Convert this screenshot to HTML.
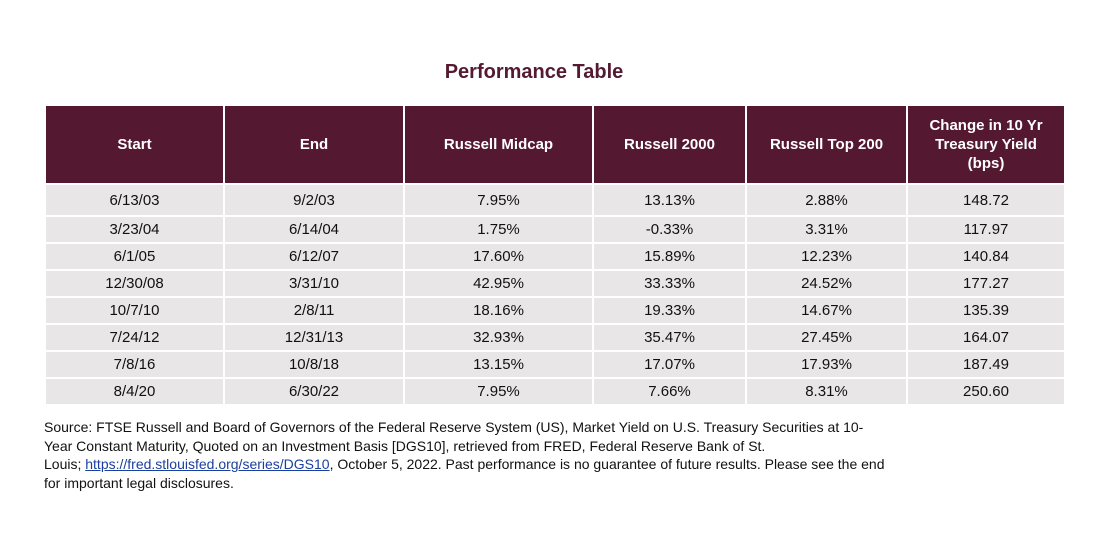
<!DOCTYPE html>
<html><head><meta charset="utf-8"><style>
body{margin:0;width:1111px;height:540px;background:#fff;font-family:"Liberation Sans",Arial,sans-serif;position:relative;overflow:hidden}
#title{position:absolute;left:0;width:1068px;top:61px;text-align:center;font-weight:bold;font-size:20px;color:#541a32}
table{position:absolute;left:44px;top:104px;border-collapse:collapse;table-layout:fixed}
td,th{border:2px solid #fff;text-align:center;font-size:15px;padding:0;color:#111}
th{background:#541830;color:#fff;font-weight:bold;height:77px;line-height:19px}
td{background:#e8e6e7;height:25px}
tr.r1 td{height:30px}
#note{position:absolute;left:44px;top:418px;font-size:14px;line-height:18.5px;color:#111}
.link{color:#1a3fa0;text-decoration:underline}
</style></head><body>
<div id="title">Performance Table</div>
<table>
<colgroup><col style="width:179px"><col style="width:180px"><col style="width:189px"><col style="width:153px"><col style="width:161px"><col style="width:158px"></colgroup>
<tr><th>Start</th><th>End</th><th>Russell Midcap</th><th>Russell 2000</th><th>Russell Top 200</th><th>Change in 10 Yr<br>Treasury Yield<br>(bps)</th></tr>
<tr class="r1"><td>6/13/03</td><td>9/2/03</td><td>7.95%</td><td>13.13%</td><td>2.88%</td><td>148.72</td></tr>
<tr><td>3/23/04</td><td>6/14/04</td><td>1.75%</td><td>-0.33%</td><td>3.31%</td><td>117.97</td></tr>
<tr><td>6/1/05</td><td>6/12/07</td><td>17.60%</td><td>15.89%</td><td>12.23%</td><td>140.84</td></tr>
<tr><td>12/30/08</td><td>3/31/10</td><td>42.95%</td><td>33.33%</td><td>24.52%</td><td>177.27</td></tr>
<tr><td>10/7/10</td><td>2/8/11</td><td>18.16%</td><td>19.33%</td><td>14.67%</td><td>135.39</td></tr>
<tr><td>7/24/12</td><td>12/31/13</td><td>32.93%</td><td>35.47%</td><td>27.45%</td><td>164.07</td></tr>
<tr><td>7/8/16</td><td>10/8/18</td><td>13.15%</td><td>17.07%</td><td>17.93%</td><td>187.49</td></tr>
<tr><td>8/4/20</td><td>6/30/22</td><td>7.95%</td><td>7.66%</td><td>8.31%</td><td>250.60</td></tr>
</table>
<div id="note">Source: FTSE Russell and Board of Governors of the Federal Reserve System (US), Market Yield on U.S. Treasury Securities at 10-<br>Year Constant Maturity, Quoted on an Investment Basis [DGS10], retrieved from FRED, Federal Reserve Bank of St.<br>Louis; <span class="link">https://fred.stlouisfed.org/series/DGS10</span>, October 5, 2022. Past performance is no guarantee of future results. Please see the end<br>for important legal disclosures.</div>
</body></html>
